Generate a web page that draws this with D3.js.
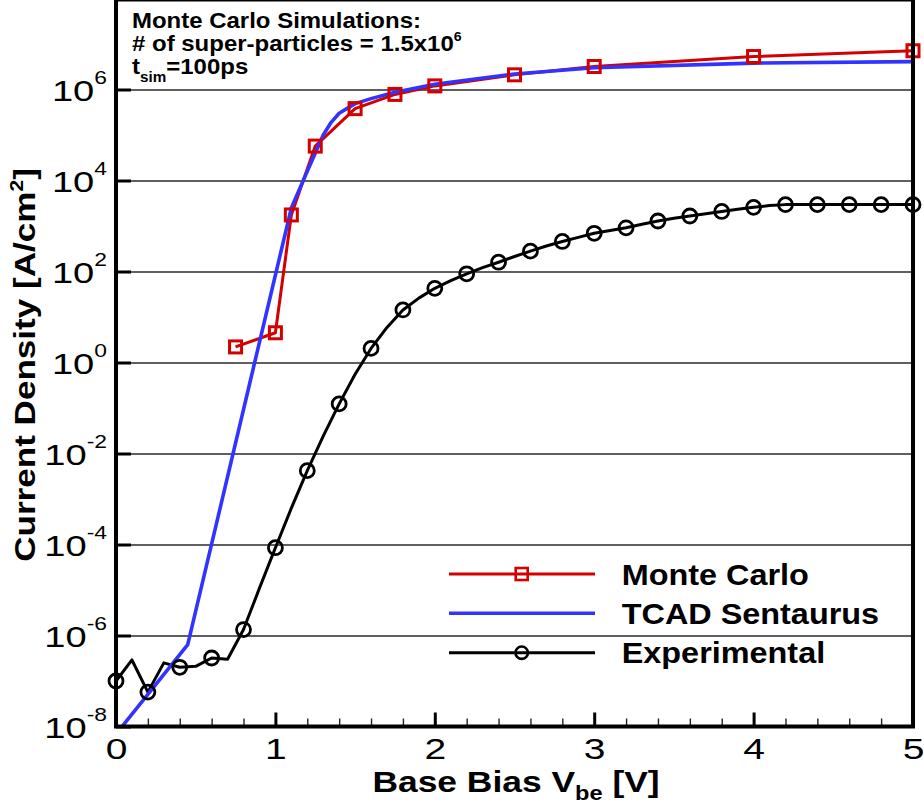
<!DOCTYPE html>
<html>
<head>
<meta charset="utf-8">
<script src="https://cdn.jsdelivr.net/npm/d3@7"></script>
<style>
  body { margin: 0; background: #fff; }
  svg { display: block; font-family: "Liberation Sans", Arial, Helvetica, sans-serif; }
</style>
</head>
<body>
<svg id="chart" width="924" height="808"></svg>
<script>
// Monte Carlo simulation (red squares)
const mcBias = [0.75, 1.0, 1.1, 1.25, 1.5, 1.75, 2.0, 2.5, 3.0, 4.0, 5.0];
const mcCurrent = [2.2, 4.5, 1.75e3, 5.7e4, 3.8e5, 7.8e5, 1.2e6, 2.1e6, 3.2e6, 5.3e6, 7.1e6];

// TCAD Sentaurus (blue line)
const tcadBias = [0, 0.45, 1.1, 1.2, 1.3, 1.35, 1.4, 1.5, 1.6, 1.75, 2.0, 2.5, 3.0, 4.0, 5.0];
const tcadCurrent = [6.8e-9, 6.3e-7, 2.5e3, 1.6e4, 1.0e5, 1.9e5, 3.0e5, 4.9e5, 6.3e5, 8.7e5, 1.3e6, 2.2e6, 3.0e6, 3.8e6, 4.1e6];

// Experimental (black circles, symbol on every other point)
const expBias = [0, 0.1, 0.2, 0.3, 0.4, 0.5, 0.6, 0.7, 0.8, 0.9,
                 1.0, 1.1, 1.2, 1.3, 1.4, 1.5, 1.6, 1.7, 1.8, 1.9,
                 2.0, 2.1, 2.2, 2.3, 2.4, 2.5, 2.6, 2.7, 2.8, 2.9,
                 3.0, 3.1, 3.2, 3.3, 3.4, 3.5, 3.6, 3.7, 3.8, 3.9,
                 4.0, 4.1, 4.2, 4.3, 4.4, 4.5, 4.6, 4.7, 4.8, 4.9, 5.0];
const expCurrent = [1.0e-7, 2.9e-7, 5.7e-8, 2.5e-7, 2.0e-7, 2.1e-7, 3.2e-7, 3.0e-7, 1.35e-6, 1.1e-5,
                    8.5e-5, 6.3e-4, 4.2e-3, 2.4e-2, 0.123, 0.55, 2.04, 5.9, 14.3, 26,
                    42.7, 63, 89, 122, 160, 214, 280, 363, 457, 562,
                    692, 794, 912, 1096, 1288, 1479, 1660, 1862, 2089, 2344,
                    2570, 2818, 2950, 2950, 2950, 2950, 2950, 2950, 2950, 2950, 2950];

const xTickValues = [0, 1, 2, 3, 4, 5];
const yTickExponents = [-8, -6, -4, -2, 0, 2, 4, 6];
const legendLabels = ["Monte Carlo", "TCAD Sentaurus", "Experimental"];

const RED = "#d40000", BLUE = "#3333ff", BLACK = "#000";
const FONT = "'Liberation Sans', Arial, Helvetica, sans-serif";

const plotLeft = 116, plotRight = 913, plotTop = -0.5, plotBottom = 726.5;
const svg = d3.select("#chart");

const x = d3.scaleLinear().domain([0, 5]).range([plotLeft, plotRight]);
const y = d3.scaleLog().domain([1e-8, 1e6]).range([plotBottom, 89.5]);

svg.append("defs").append("clipPath").attr("id", "plotClip")
  .append("rect")
  .attr("x", plotLeft).attr("y", plotTop)
  .attr("width", plotRight - plotLeft).attr("height", plotBottom - plotTop);

// horizontal grid lines
const gridAxis = d3.axisLeft(y)
  .tickValues(yTickExponents.filter(e => e > -8).map(e => Math.pow(10, e)))
  .tickSize(-(plotRight - plotLeft))
  .tickFormat(() => "");
const grid = svg.append("g").attr("transform", `translate(${plotLeft},0)`).call(gridAxis);
grid.select(".domain").remove();
grid.selectAll("line").attr("stroke", "#2a2a2a").attr("stroke-width", 1.3);

// minor x ticks
const minorTicks = d3.range(0, 5.001, 0.2).filter(v => Math.abs(v - Math.round(v)) > 1e-6);
const xMinor = svg.append("g").attr("transform", `translate(0,${plotBottom})`)
  .call(d3.axisBottom(x).tickValues(minorTicks).tickSize(-8).tickSizeOuter(0).tickFormat(() => ""));
xMinor.select(".domain").remove();
xMinor.selectAll("line").attr("stroke", "#222").attr("stroke-width", 1.4);

// major x ticks and labels
const xAxis = svg.append("g").attr("transform", `translate(0,${plotBottom})`)
  .call(d3.axisBottom(x).tickValues(xTickValues).tickSize(-14).tickSizeOuter(0).tickFormat(() => ""));
xAxis.select(".domain").remove();
xAxis.selectAll("line").attr("stroke", BLACK).attr("stroke-width", 3);
xAxis.selectAll(".tick text").remove();
xAxis.selectAll(".tick").append("text")
  .attr("transform", "translate(0,32) scale(1.3,1)")
  .attr("text-anchor", "middle")
  .attr("font-family", FONT)
  .attr("font-size", 30)
  .attr("fill", BLACK)
  .text(d => d);

// major y ticks and labels
const yAxis = svg.append("g").attr("transform", `translate(${plotLeft},0)`)
  .call(d3.axisLeft(y).tickValues(yTickExponents.map(e => Math.pow(10, e)))
    .tickSize(-15).tickSizeOuter(0).tickFormat(() => ""));
yAxis.select(".domain").remove();
yAxis.selectAll("line").attr("stroke", BLACK).attr("stroke-width", 3);
yAxis.selectAll(".tick text").remove();
const yLab = yAxis.selectAll(".tick").append("text")
  .attr("transform", "translate(-9,11) scale(1.27,1)")
  .attr("text-anchor", "end")
  .attr("font-family", FONT)
  .attr("font-size", 30)
  .attr("fill", BLACK);
yLab.append("tspan").text("10");
yLab.append("tspan").attr("dy", -17).attr("font-size", 18)
  .text(d => Math.round(Math.log10(d)));

// data lines
const line = d3.line().x(d => x(d[0])).y(d => y(d[1]));
const plot = svg.append("g").attr("clip-path", "url(#plotClip)");

const mcData = d3.zip(mcBias, mcCurrent);
const tcadData = d3.zip(tcadBias, tcadCurrent);
const expData = d3.zip(expBias, expCurrent);

plot.append("path").datum(expData)
  .attr("d", line).attr("fill", "none")
  .attr("stroke", BLACK).attr("stroke-width", 3).attr("stroke-linejoin", "round");
plot.append("path").datum(mcData)
  .attr("d", line).attr("fill", "none")
  .attr("stroke", RED).attr("stroke-width", 3).attr("stroke-linejoin", "round");
plot.append("path").datum(tcadData)
  .attr("d", line).attr("fill", "none")
  .attr("stroke", BLUE).attr("stroke-width", 3.6).attr("stroke-linejoin", "round");

// markers
svg.append("g").selectAll("circle")
  .data(expData.filter((d, i) => i % 2 === 0))
  .enter().append("circle")
  .attr("cx", d => x(d[0])).attr("cy", d => y(d[1]))
  .attr("r", 7).attr("fill", "none")
  .attr("stroke", BLACK).attr("stroke-width", 2.8);

const sq = 12;
svg.append("g").selectAll("rect")
  .data(mcData)
  .enter().append("rect")
  .attr("x", d => x(d[0]) - sq / 2).attr("y", d => y(d[1]) - sq / 2)
  .attr("width", sq).attr("height", sq)
  .attr("fill", "none").attr("stroke", RED).attr("stroke-width", 3);

// frame
svg.append("rect")
  .attr("x", plotLeft).attr("y", plotTop)
  .attr("width", plotRight - plotLeft).attr("height", plotBottom - plotTop)
  .attr("fill", "none").attr("stroke", BLACK).attr("stroke-width", 4);

// axis titles
const xTitle = svg.append("text")
  .attr("transform", "translate(516,792) scale(1.18,1)")
  .attr("text-anchor", "middle")
  .attr("font-family", FONT).attr("font-weight", "bold").attr("font-size", 30);
xTitle.append("tspan").text("Base Bias V");
xTitle.append("tspan").attr("dy", 8).attr("font-size", 20).text("be");
xTitle.append("tspan").attr("dy", -8).text(" [V]");

const yTitle = svg.append("text")
  .attr("transform", "translate(35,365) rotate(-90) scale(1.17,1)")
  .attr("text-anchor", "middle")
  .attr("font-family", FONT).attr("font-weight", "bold").attr("font-size", 30);
yTitle.append("tspan").text("Current Density [A/cm");
yTitle.append("tspan").attr("dy", -12).attr("font-size", 18).text("2");
yTitle.append("tspan").attr("dy", 12).text("]");

// annotation
const note = svg.append("g")
  .attr("font-family", FONT).attr("font-weight", "bold").attr("font-size", 22);
note.append("text").attr("transform", "translate(132,28.3) scale(1.09,1)")
  .text("Monte Carlo Simulations:");
const n2 = note.append("text").attr("transform", "translate(132,50.7) scale(1.09,1)");
n2.append("tspan").text("# of super-particles = 1.5x10");
n2.append("tspan").attr("dy", -10).attr("font-size", 13).text("6");
const n3 = note.append("text").attr("transform", "translate(132,74) scale(1.09,1)");
n3.append("tspan").text("t");
n3.append("tspan").attr("dy", 8).attr("font-size", 14).text("sim");
n3.append("tspan").attr("dy", -8).text("=100ps");

// legend
const legendY = [574, 613.3, 652.7];
const legend = svg.append("g");
const legendColors = [RED, BLUE, BLACK];
legendLabels.forEach((label, i) => {
  const g = legend.append("g").attr("transform", `translate(0,${legendY[i]})`);
  g.append("line").attr("x1", 449).attr("x2", 595).attr("y1", 0).attr("y2", 0)
    .attr("stroke", legendColors[i]).attr("stroke-width", i === 1 ? 3.6 : 3);
  if (i === 0) {
    g.append("rect").attr("x", 521.7 - 6).attr("y", -6).attr("width", 12).attr("height", 12)
      .attr("fill", "none").attr("stroke", RED).attr("stroke-width", 2.6);
  } else if (i === 2) {
    g.append("circle").attr("cx", 521.7).attr("cy", 0).attr("r", 6.2)
      .attr("fill", "none").attr("stroke", BLACK).attr("stroke-width", 2.6);
  }
  g.append("text")
    .attr("transform", "translate(621.7,10.5) scale(1.08,1)")
    .attr("font-family", FONT).attr("font-weight", "bold").attr("font-size", 30)
    .text(label);
});
</script>
</body>
</html>
